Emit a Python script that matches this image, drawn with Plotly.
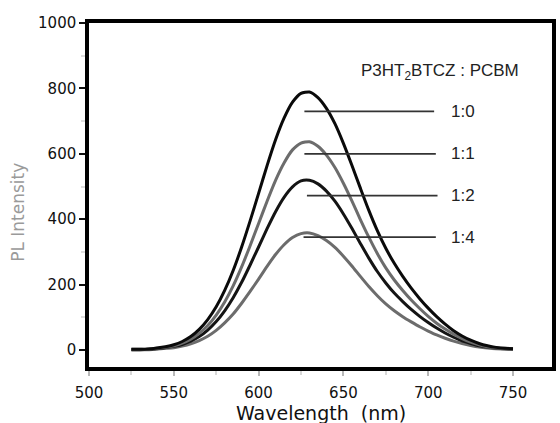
import plotly.graph_objects as go

# ---- data ----
wavelength = [525, 530, 535, 540, 545, 550, 555, 560, 565, 570, 575, 580, 585, 590,
              595, 600, 605, 610, 615, 620, 625, 630, 635, 640, 645, 650, 655, 660,
              665, 670, 675, 680, 685, 690, 695, 700, 705, 710, 715, 720, 725, 730,
              735, 740, 745, 750]
pl_1_0 = [2, 2, 3, 6, 10, 16, 26, 41, 63, 93, 132, 182, 243, 315,
          395, 479, 564, 643, 709, 758, 785, 789, 772, 739, 692, 632, 565, 495,
          427, 365, 311, 265, 225, 189, 157, 128, 102, 79, 59, 43, 30, 20,
          13, 8, 5, 4]
pl_1_1 = [2, 2, 2, 5, 8, 13, 21, 33, 51, 75, 107, 147, 196, 254,
          319, 387, 455, 519, 572, 612, 633, 637, 623, 596, 558, 510, 456, 399,
          345, 295, 251, 214, 182, 153, 127, 103, 82, 64, 48, 35, 24, 16,
          10, 7, 5, 3]
pl_1_2 = [1, 1, 2, 4, 7, 11, 17, 27, 41, 61, 87, 120, 160, 207,
          260, 315, 371, 423, 467, 499, 517, 519, 508, 486, 455, 416, 372, 326,
          281, 240, 205, 174, 148, 124, 103, 84, 67, 52, 39, 28, 20, 13,
          9, 6, 4, 3]
pl_1_4 = [1, 1, 1, 3, 5, 7, 12, 19, 29, 42, 60, 83, 110, 143,
          179, 217, 256, 292, 322, 344, 356, 358, 350, 335, 314, 287, 257, 225,
          194, 166, 141, 120, 102, 86, 71, 58, 46, 36, 27, 20, 14, 9,
          6, 4, 3, 2]

ratio_labels = ["1:0", "1:1", "1:2", "1:4"]
label_y = [730, 600, 472, 345]
line_x0 = [627, 627, 628.5, 626.5]
line_x1 = [703.5, 704.5, 705.5, 704.5]
label_x = 712.5
x_ticks = [500, 550, 600, 650, 700, 750]
y_ticks = [0, 200, 400, 600, 800, 1000]

series = [
    (pl_1_4, "#6c6c6c", "1:4"),
    (pl_1_2, "#141414", "1:2"),
    (pl_1_1, "#6c6c6c", "1:1"),
    (pl_1_0, "#0a0a0a", "1:0"),
]

fig = go.Figure()
for vals, col, name in series:
    fig.add_trace(go.Scatter(x=wavelength, y=vals, mode="lines", name=name,
                             line=dict(color=col, width=3, shape="spline", smoothing=0.6),
                             showlegend=False, hoverinfo="skip"))

shapes = []
annotations = []
for lab, y, x0, x1 in zip(ratio_labels, label_y, line_x0, line_x1):
    shapes.append(dict(type="line", xref="x", yref="y", x0=x0, x1=x1, y0=y, y1=y,
                       line=dict(color="#333333", width=1.8)))
    annotations.append(dict(x=label_x, y=y, xref="x", yref="y", text=lab,
                            showarrow=False, xanchor="left", yanchor="middle",
                            font=dict(family="Liberation Sans, Arial", size=17, color="#222")))

annotations.append(dict(x=659, y=851, xref="x", yref="y",
                        text="P3HT<sub>2</sub>BTCZ : PCBM", showarrow=False,
                        xanchor="left", yanchor="middle",
                        font=dict(family="Liberation Sans, Arial", size=17, color="#222")))
annotations.append(dict(x=0.5, y=-0.134, xref="paper", yref="paper",
                        text="Wavelength\u00a0 (nm)", showarrow=False,
                        xanchor="center", yanchor="middle",
                        font=dict(family="DejaVu Sans", size=19, color="#111")))
annotations.append(dict(x=-0.152, y=0.45, xref="paper", yref="paper",
                        text="PL Intensity", showarrow=False, textangle=-90,
                        xanchor="center", yanchor="middle",
                        font=dict(family="DejaVu Sans", size=17, color="#9a9a9a")))

fig.update_layout(
    width=560, height=423,
    margin=dict(l=89, r=4, t=23, b=56),
    paper_bgcolor="white", plot_bgcolor="white",
    shapes=shapes, annotations=annotations,
    font=dict(family="DejaVu Sans", size=15, color="#111"),
)
fig.update_xaxes(range=[500, 773], tickvals=x_ticks, showgrid=False, zeroline=False,
                 showline=True, linecolor="black", linewidth=3.5, mirror=True,
                 ticks="outside", ticklen=5, tickwidth=2, tickcolor="#b8b8b8",
                 ticklabelstandoff=4,
                 minor=dict(ticks="outside", ticklen=4, tickwidth=2, tickcolor="#d8d8d8", dtick=25, tick0=500),
                 tickfont=dict(family="DejaVu Sans", size=15, color="#111"))
fig.update_yaxes(range=[-52, 1000], tickvals=y_ticks, showgrid=False, zeroline=False,
                 showline=True, linecolor="black", linewidth=3.5, mirror=True,
                 ticks="outside", ticklen=6, tickwidth=2, tickcolor="#111",
                 minor=dict(ticks="outside", ticklen=4, tickwidth=2, tickcolor="#dddddd", dtick=100, tick0=0),
                 tickfont=dict(family="DejaVu Sans", size=15, color="#111"))

fig.write_html("out.html", config={"displayModeBar": False},
               post_script="document.body.style.margin='0';document.body.style.padding='0';")
